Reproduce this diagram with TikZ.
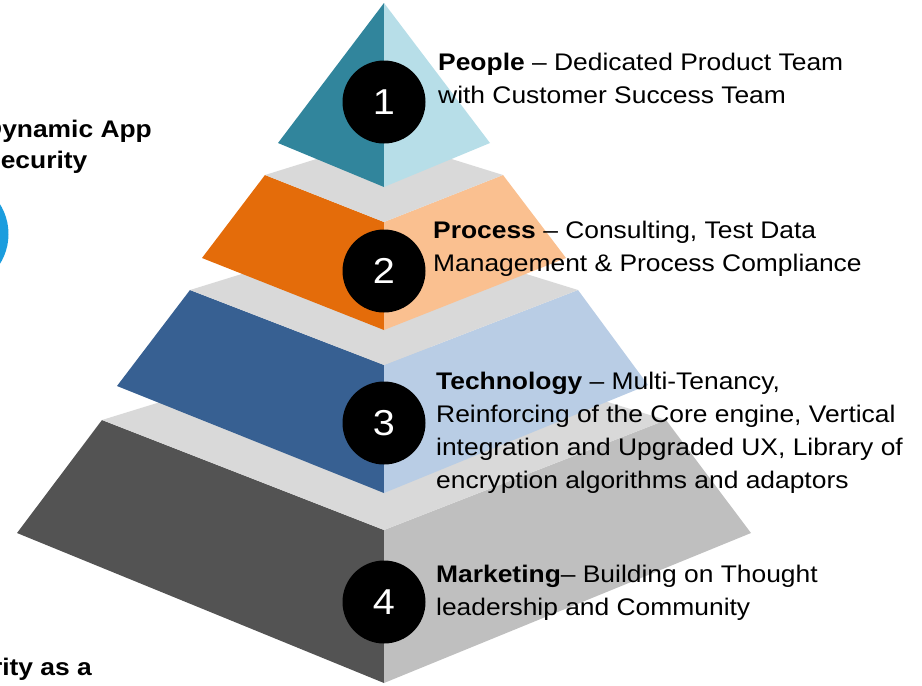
\documentclass[tikz,border=0pt]{standalone}
\usepackage{fontspec}
\setmainfont{Liberation Sans}[FakeStretch=1.1]

\definecolor{tealdark}{HTML}{31859C}
\definecolor{teallight}{HTML}{B7DEE8}
\definecolor{orangedark}{HTML}{E46C0A}
\definecolor{orangelight}{HTML}{FAC090}
\definecolor{bluedark}{HTML}{376092}
\definecolor{bluelight}{HTML}{B9CDE5}
\definecolor{greydark}{HTML}{535353}
\definecolor{greylight}{HTML}{BFBFBF}
\definecolor{topface}{HTML}{D9D9D9}
\definecolor{appblue}{HTML}{1B9DDE}

\tikzstyle{badge}=[circle,fill=black,text=white,minimum size=83pt,inner sep=0pt,font=\fontsize{36}{36}\selectfont]
\tikzstyle{desc}=[anchor=base west,align=left,inner sep=0pt,font=\fontsize{24}{33}\selectfont]
\tikzstyle{sidetext}=[align=left,inner sep=0pt,font=\bfseries\fontsize{24}{31}\selectfont]

\begin{document}
\begin{tikzpicture}[x=1pt,y=-1pt]
	\clip (0,0) rectangle (922,686);
	% tier 4
	\fill[greydark] (102,420) -- (17,533) -- (384,683) -- (384,530) -- cycle;
	\fill[greylight] (666,420) -- (751,533) -- (384,683) -- (384,530) -- cycle;
	\fill[topface] (102,420) -- (384,333) -- (666,420) -- (384,530) -- cycle;
	% tier 3
	\fill[bluedark] (190,290) -- (117,386) -- (384,493) -- (384,365) -- cycle;
	\fill[bluelight] (578,290) -- (648,385) -- (384,493) -- (384,365) -- cycle;
	\fill[topface] (190,290) -- (384,230) -- (578,290) -- (384,365) -- cycle;
	% tier 2
	\fill[orangedark] (265,175) -- (202,258) -- (384,330) -- (384,222) -- cycle;
	\fill[orangelight] (503,175) -- (566,258) -- (384,330) -- (384,222) -- cycle;
	\fill[topface] (265,175) -- (384,138) -- (503,175) -- (384,222) -- cycle;
	% tier 1
	\fill[tealdark] (384,3) -- (278,143) -- (384,187) -- cycle;
	\fill[teallight] (384,3) -- (490,143) -- (384,187) -- cycle;

	\foreach \nr/\y in {1/102,2/271,3/423,4/602}{
		\node[badge] (N\nr) at (384,\y) {\nr};
	}

	% base = last line
	\node[desc] (T1) at (438,103) {\textbf{People} – Dedicated Product Team\\with Customer Success Team};
	\node[desc] (T2) at (433,271) {\textbf{Process} – Consulting, Test Data\\Management \& Process Compliance};
	\node[desc] (T3) at (436,488) {\textbf{Technology} – Multi-Tenancy,\\Reinforcing of the Core engine, Vertical\\integration and Upgraded UX, Library of\\encryption algorithms and adaptors};
	\node[desc] (T4) at (436,615) {\textbf{Marketing}– Building on Thought\\leadership and Community};

	% cut-off parts at the left edge
	\fill[appblue] (-48,234) circle (56.5pt);
	\node[sidetext,anchor=base west] (S1) at (-17,168) {Dynamic App\\Security};
	\node[sidetext,anchor=base east] (S2) at (92,675) {rity as a};
\end{tikzpicture}
\end{document}
